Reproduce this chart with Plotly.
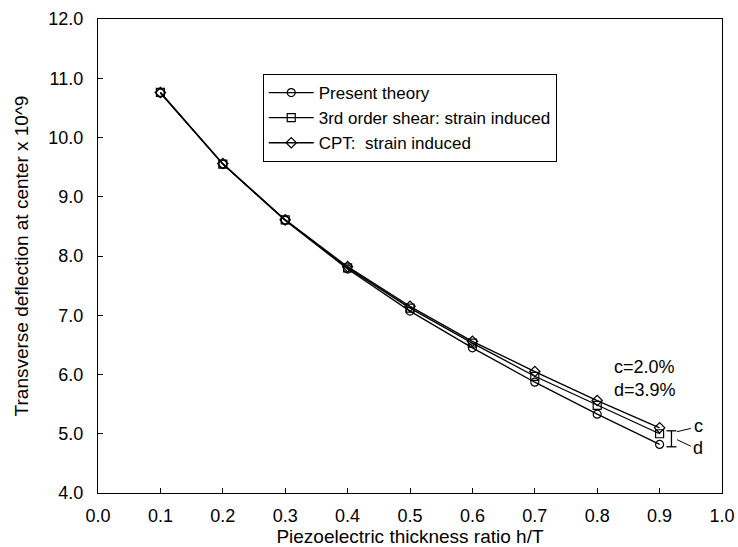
import plotly.graph_objects as go

ratio = [0.1, 0.2, 0.3, 0.4, 0.5, 0.6, 0.7, 0.8, 0.9]
present = [10.75, 9.55, 8.60, 7.78, 7.07, 6.45, 5.87, 5.33, 4.82]
third_order = [10.76, 9.55, 8.61, 7.80, 7.12, 6.53, 5.97, 5.48, 5.00]
cpt = [10.76, 9.56, 8.61, 7.82, 7.15, 6.56, 6.05, 5.56, 5.10]

names = ["Present theory", "3rd order shear: strain induced", "CPT:  strain induced"]
symbols = ["circle-open", "square-open", "diamond-open"]
x_ticks = [0.0, 0.1, 0.2, 0.3, 0.4, 0.5, 0.6, 0.7, 0.8, 0.9, 1.0]
y_ticks = [4, 5, 6, 7, 8, 9, 10, 11, 12]

FONT = "Liberation Sans, Arial, sans-serif"
fig = go.Figure()
for name, ys, sym in zip(names, [present, third_order, cpt], symbols):
    fig.add_trace(go.Scatter(
        x=ratio, y=ys, name=name, mode="lines+markers",
        line=dict(color="black", width=1.3),
        marker=dict(symbol=sym, size=8, color="black", line=dict(width=1.2, color="black")),
    ))

# bracket and labels near x=0.9
bx, btop, bbot = 0.919, 5.05, 4.78
fig.add_shape(type="line", x0=bx, x1=bx, y0=bbot, y1=btop, line=dict(color="black", width=1.3))
fig.add_shape(type="line", x0=bx - 0.008, x1=bx + 0.008, y0=btop, y1=btop, line=dict(color="black", width=1.3))
fig.add_shape(type="line", x0=bx - 0.008, x1=bx + 0.008, y0=bbot, y1=bbot, line=dict(color="black", width=1.3))
fig.add_shape(type="line", x0=0.928, x1=0.950, y0=5.035, y1=5.09, line=dict(color="black", width=1))
fig.add_shape(type="line", x0=0.928, x1=0.950, y0=4.90, y1=4.79, line=dict(color="black", width=1))
fig.add_annotation(x=0.962, y=5.13, text="c", showarrow=False, font=dict(size=18, color="black", family=FONT))
fig.add_annotation(x=0.962, y=4.76, text="d", showarrow=False, font=dict(size=18, color="black", family=FONT))
fig.add_annotation(x=0.823, y=6.13, xanchor="left", text="c=2.0%", showarrow=False, font=dict(size=18, color="black", family=FONT))
fig.add_annotation(x=0.823, y=5.74, xanchor="left", text="d=3.9%", showarrow=False, font=dict(size=18, color="black", family=FONT))

axis_common = dict(
    showline=True, linecolor="black", linewidth=1.3, mirror=True,
    ticks="inside", ticklen=5, tickcolor="black", showgrid=False, zeroline=False,
    tickfont=dict(size=18, color="black", family=FONT), automargin=False,
)
fig.update_xaxes(range=[0, 1.0], tickvals=x_ticks, ticktext=[f"{v:.1f}" for v in x_ticks],
                 ticklabelstandoff=6,
                 title=dict(text="Piezoelectric thickness ratio h/T", font=dict(size=19, color="black", family=FONT), standoff=4),
                 **axis_common)
fig.update_yaxes(range=[4, 12], tickvals=y_ticks, ticktext=[f"{v:.1f}" for v in y_ticks],
                 ticklabelstandoff=10,
                 title=dict(text="Transverse deflection at center x 10^9", font=dict(size=19, color="black", family=FONT), standoff=14),
                 **axis_common)

fig.update_layout(
    width=738, height=547,
    margin=dict(l=98, r=16, t=19, b=54),
    plot_bgcolor="white", paper_bgcolor="white",
    font=dict(family=FONT, color="black"),
    legend=dict(x=0.264, y=0.884, xanchor="left", yanchor="top",
                bordercolor="black", borderwidth=1, bgcolor="white",
                font=dict(size=17, color="black", family=FONT),
                itemwidth=45, tracegroupgap=0),
    showlegend=True,
)
fig.write_html("out.html")
